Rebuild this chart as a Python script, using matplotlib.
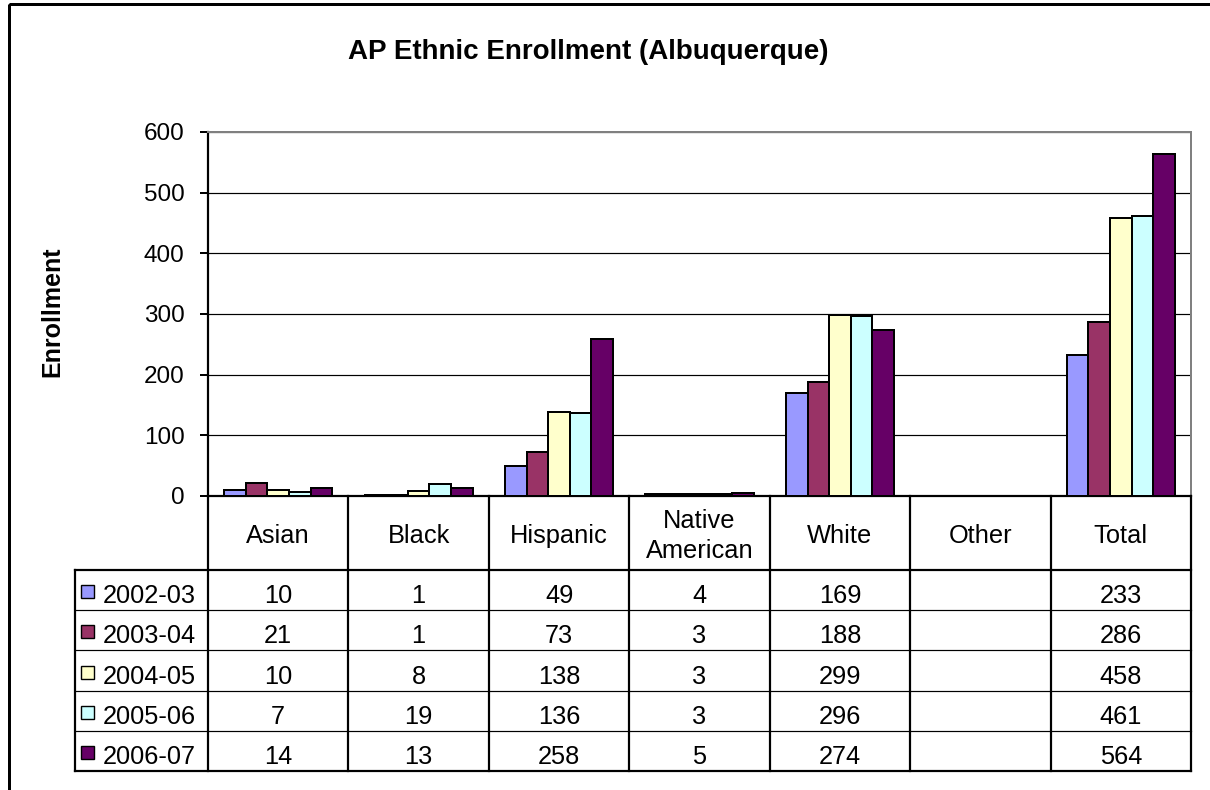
import matplotlib
matplotlib.use('Agg')
import matplotlib.pyplot as plt
from matplotlib.patches import Rectangle
import numpy as np

plt.rcParams['font.family'] = ['Liberation Sans', 'DejaVu Sans']

title = 'AP Ethnic Enrollment (Albuquerque)'
ylabel = 'Enrollment'
categories = ['Asian', 'Black', 'Hispanic', 'Native\nAmerican', 'White', 'Other', 'Total']
years = ['2002-03', '2003-04', '2004-05', '2005-06', '2006-07']
v_2002_03 = [10, 1, 49, 4, 169, None, 233]
v_2003_04 = [21, 1, 73, 3, 188, None, 286]
v_2004_05 = [10, 8, 138, 3, 299, None, 458]
v_2005_06 = [7, 19, 136, 3, 296, None, 461]
v_2006_07 = [14, 13, 258, 5, 274, None, 564]
series = [v_2002_03, v_2003_04, v_2004_05, v_2005_06, v_2006_07]
colors = ['#9999FF', '#993366', '#FFFFCC', '#CCFFFF', '#660066']
yticks = [0, 100, 200, 300, 400, 500, 600]

W, H = 1210, 790
fig = plt.figure(figsize=(W / 100, H / 100), dpi=100)
fig.patch.set_facecolor('white')

PX = 0.72  # points per pixel
FS = 18.3
L, R, T, B = 208, 1191, 132, 496
ax = fig.add_axes([L / W, 1 - B / H, (R - L) / W, (B - T) / H])
n = len(categories)
k = len(years)
bw = 1 / 6.5
x = np.arange(n)
for i, (vals, c) in enumerate(zip(series, colors)):
    vv = [np.nan if v is None else v for v in vals]
    ax.bar(x + (i - (k - 1) / 2) * bw, vv, width=bw, color=c,
           edgecolor='black', linewidth=2 * PX, zorder=3)
ax.set_xlim(-0.5, n - 0.5)
ax.set_ylim(0, 600)
ax.set_yticks(yticks)
ax.set_yticklabels([str(t) for t in yticks], fontsize=17.5)
ax.set_xticks([])
ax.yaxis.grid(True, color='black', linewidth=1.2 * PX)
ax.set_axisbelow(True)
ax.tick_params(axis='y', direction='out', length=8 * PX, width=2 * PX, pad=11, colors='black')
for s in ['left', 'bottom']:
    ax.spines[s].set_color('black')
    ax.spines[s].set_linewidth(2.2 * PX)
for s in ['top', 'right']:
    ax.spines[s].set_color('#808080')
    ax.spines[s].set_linewidth(2 * PX)

# overlay in pixel coordinates for title, label, table and frame
ov = fig.add_axes([0, 0, 1, 1], zorder=5)
ov.set_xlim(0, W)
ov.set_ylim(H, 0)
ov.axis('off')
ov.patch.set_visible(False)

ov.add_patch(Rectangle((9, 4), W + 20, H + 20, fill=False, edgecolor='black', linewidth=3 * PX))
ov.text(588, 52, title, ha='center', va='center', fontsize=20, fontweight='bold')
ov.text(52, 312, ylabel, ha='center', va='center', rotation=90, fontsize=18, fontweight='bold')

colw = (R - L) / n
bounds = [L + i * colw for i in range(n + 1)]
head_top, head_bot = B, 570
row_h = (771 - head_bot) / k
rows = [head_bot + j * row_h for j in range(k + 1)]
tab_left = 75
thick = 2.2 * PX
thin = 1.2 * PX

# vertical lines
for bx in bounds:
    ov.plot([bx, bx], [head_top, rows[-1]], color='black', linewidth=thick, solid_capstyle='projecting')
ov.plot([tab_left, tab_left], [head_bot, rows[-1]], color='black', linewidth=thick, solid_capstyle='projecting')
# horizontal lines
ov.plot([tab_left, R], [head_bot, head_bot], color='black', linewidth=thick, solid_capstyle='projecting')
for ry in rows[1:-1]:
    ov.plot([tab_left, R], [ry, ry], color='black', linewidth=thin)
ov.plot([tab_left, R], [rows[-1], rows[-1]], color='black', linewidth=thick, solid_capstyle='projecting')

# header text
for i, cat in enumerate(categories):
    cx = (bounds[i] + bounds[i + 1]) / 2
    ov.text(cx, (head_top + head_bot) / 2 + 3, cat, ha='center', va='center',
            fontsize=FS, linespacing=1.35)

# data rows
for j, (yr, vals, c) in enumerate(zip(years, series, colors)):
    cy = (rows[j] + rows[j + 1]) / 2 + 6
    ov.add_patch(Rectangle((81, cy - 11), 13, 13, facecolor=c, edgecolor='black', linewidth=1.4 * PX))
    ov.text(103, cy, yr, ha='left', va='center', fontsize=FS)
    for i, v in enumerate(vals):
        if v is None:
            continue
        cx = (bounds[i] + bounds[i + 1]) / 2
        ov.text(cx, cy, str(v), ha='center', va='center', fontsize=FS)

fig.savefig('out.png', dpi=100)
